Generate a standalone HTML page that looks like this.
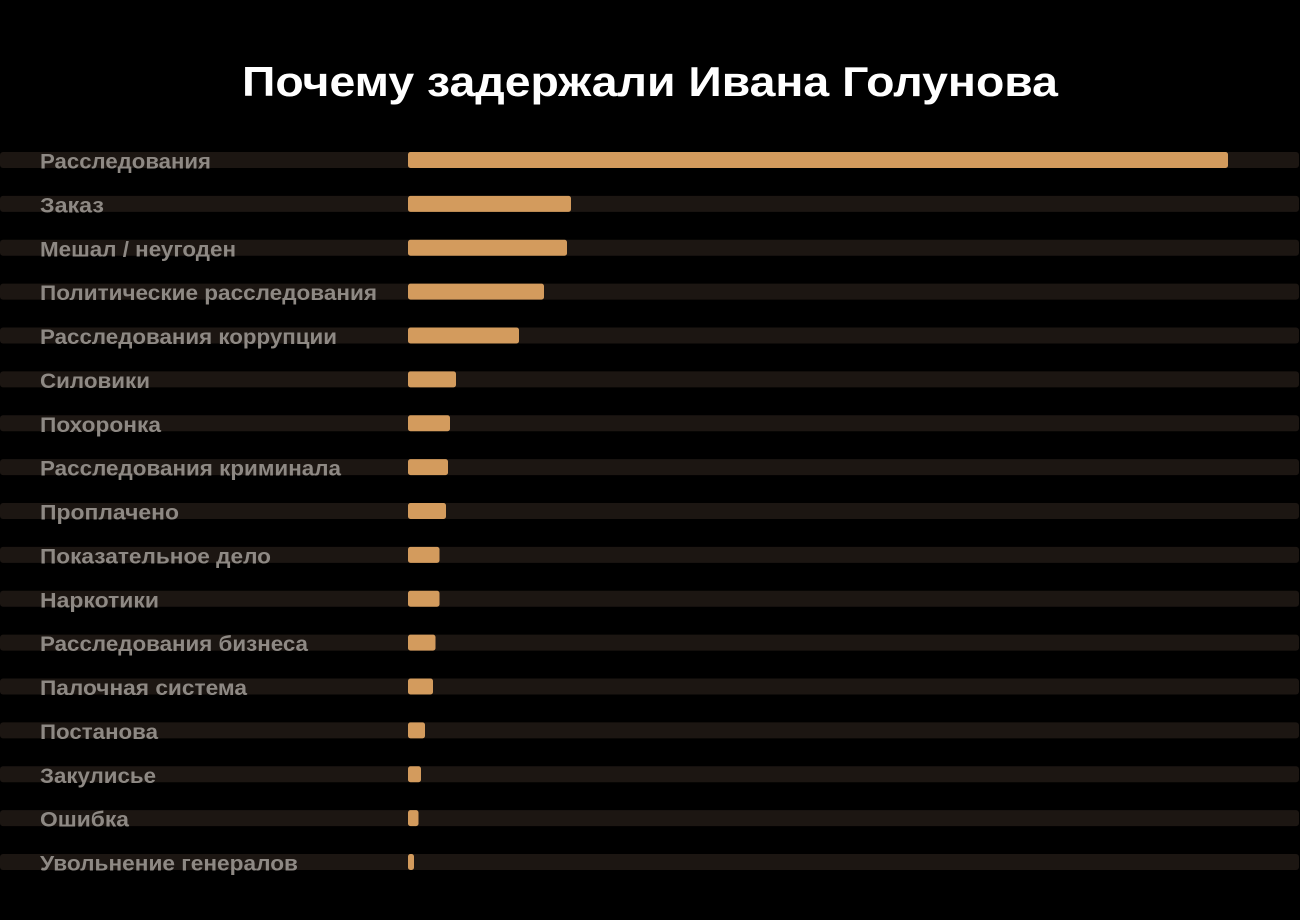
<!DOCTYPE html>
<html>
<head>
<meta charset="utf-8">
<style>
html,body{margin:0;padding:0;background:#000;}
svg{display:block;}
text{font-family:"Liberation Sans","Noto Sans CJK SC",sans-serif;font-weight:bold;}
</style>
</head>
<body>
<svg width="1300" height="920" viewBox="0 0 1300 920" xmlns="http://www.w3.org/2000/svg">
<rect width="1300" height="920" fill="#000"/>
<text x="242" y="96" font-size="42" fill="#ffffff" textLength="816" lengthAdjust="spacingAndGlyphs">Почему задержали Ивана Голунова</text>
<g fill="#1c1612">
<rect x="0" y="152" width="1299" height="16" rx="3"/>
<rect x="0" y="195.875" width="1299" height="16" rx="3"/>
<rect x="0" y="239.75" width="1299" height="16" rx="3"/>
<rect x="0" y="283.625" width="1299" height="16" rx="3"/>
<rect x="0" y="327.5" width="1299" height="16" rx="3"/>
<rect x="0" y="371.375" width="1299" height="16" rx="3"/>
<rect x="0" y="415.25" width="1299" height="16" rx="3"/>
<rect x="0" y="459.125" width="1299" height="16" rx="3"/>
<rect x="0" y="503" width="1299" height="16" rx="3"/>
<rect x="0" y="546.875" width="1299" height="16" rx="3"/>
<rect x="0" y="590.75" width="1299" height="16" rx="3"/>
<rect x="0" y="634.625" width="1299" height="16" rx="3"/>
<rect x="0" y="678.5" width="1299" height="16" rx="3"/>
<rect x="0" y="722.375" width="1299" height="16" rx="3"/>
<rect x="0" y="766.25" width="1299" height="16" rx="3"/>
<rect x="0" y="810.125" width="1299" height="16" rx="3"/>
<rect x="0" y="854" width="1299" height="16" rx="3"/>
</g>
<g fill="#d39b5d">
<rect x="408" y="152" width="820" height="16" rx="2.5"/>
<rect x="408" y="195.875" width="163" height="16" rx="2.5"/>
<rect x="408" y="239.75" width="159" height="16" rx="2.5"/>
<rect x="408" y="283.625" width="136" height="16" rx="2.5"/>
<rect x="408" y="327.5" width="111" height="16" rx="2.5"/>
<rect x="408" y="371.375" width="48" height="16" rx="2.5"/>
<rect x="408" y="415.25" width="42" height="16" rx="2.5"/>
<rect x="408" y="459.125" width="40" height="16" rx="2.5"/>
<rect x="408" y="503" width="38" height="16" rx="2.5"/>
<rect x="408" y="546.875" width="31.5" height="16" rx="2.5"/>
<rect x="408" y="590.75" width="31.5" height="16" rx="2.5"/>
<rect x="408" y="634.625" width="27.5" height="16" rx="2.5"/>
<rect x="408" y="678.5" width="25" height="16" rx="2.5"/>
<rect x="408" y="722.375" width="17" height="16" rx="2.5"/>
<rect x="408" y="766.25" width="13" height="16" rx="2.5"/>
<rect x="408" y="810.125" width="10.5" height="16" rx="2.5"/>
<rect x="408" y="854" width="6" height="16" rx="2.5"/>
</g>
<g fill="#8e8984" font-size="21">
<text x="40" y="168.5" textLength="171" lengthAdjust="spacingAndGlyphs">Расследования</text>
<text x="40" y="212.4" textLength="64" lengthAdjust="spacingAndGlyphs">Заказ</text>
<text x="40" y="256.25" textLength="196" lengthAdjust="spacingAndGlyphs">Мешал / неугоден</text>
<text x="40" y="300.1" textLength="337" lengthAdjust="spacingAndGlyphs">Политические расследования</text>
<text x="40" y="344" textLength="297" lengthAdjust="spacingAndGlyphs">Расследования коррупции</text>
<text x="40" y="387.9" textLength="110" lengthAdjust="spacingAndGlyphs">Силовики</text>
<text x="40" y="431.75" textLength="121" lengthAdjust="spacingAndGlyphs">Похоронка</text>
<text x="40" y="475.6" textLength="301" lengthAdjust="spacingAndGlyphs">Расследования криминала</text>
<text x="40" y="519.5" textLength="139" lengthAdjust="spacingAndGlyphs">Проплачено</text>
<text x="40" y="563.4" textLength="231" lengthAdjust="spacingAndGlyphs">Показательное дело</text>
<text x="40" y="607.25" textLength="119" lengthAdjust="spacingAndGlyphs">Наркотики</text>
<text x="40" y="651.1" textLength="268" lengthAdjust="spacingAndGlyphs">Расследования бизнеса</text>
<text x="40" y="695" textLength="207" lengthAdjust="spacingAndGlyphs">Палочная система</text>
<text x="40" y="738.9" textLength="118" lengthAdjust="spacingAndGlyphs">Постанова</text>
<text x="40" y="782.75" textLength="116" lengthAdjust="spacingAndGlyphs">Закулисье</text>
<text x="40" y="826.6" textLength="89" lengthAdjust="spacingAndGlyphs">Ошибка</text>
<text x="40" y="870.5" textLength="258" lengthAdjust="spacingAndGlyphs">Увольнение генералов</text>
</g>
</svg>
</body>
</html>
